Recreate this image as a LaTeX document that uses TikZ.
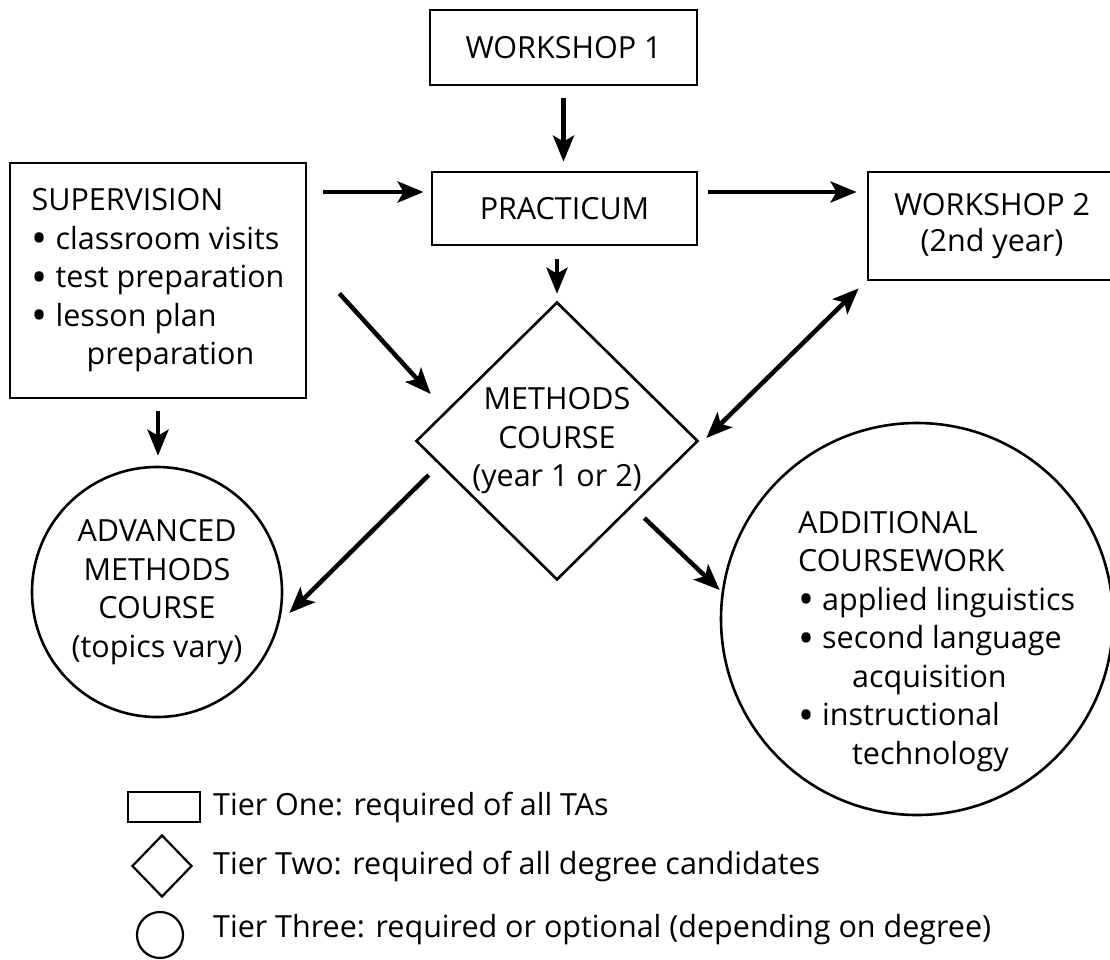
\documentclass[tikz,border=0pt]{standalone}
\usepackage{fontspec}
\setmainfont{Open Sans}
\usetikzlibrary{arrows.meta,shapes.geometric,calc}
% a round bullet a little larger than the font's own, centred on the x-height
\newcommand\tbul{\raisebox{-4.5pt}{\scalebox{1.4}{\textbullet}}}
\begin{document}
\begin{tikzpicture}[x=1pt,y=-1pt,
  every node/.style={font=\fontsize{30.5}{38.5}\selectfont, inner sep=0pt},
  box/.style={draw, rectangle, line width=2.8pt},
  dia/.style={draw, diamond, line width=2.6pt, align=center},
  ring/.style={draw, circle, line width=2.6pt, align=center},
  arr/.style={line width=4.5pt, -{Stealth[length=26pt, width=21pt, inset=6pt]}},
  dbl/.style={line width=4.5pt, {Stealth[length=26pt, width=21pt, inset=6pt]}-{Stealth[length=26pt, width=21pt, inset=6pt]}}]
\useasboundingbox (0,0) rectangle (1110,960);

% tier one: boxes
\node[box, minimum width=267, minimum height=75] (ws1) at (563.5,47.5) {WORKSHOP 1};
\node[box, minimum width=265, minimum height=73] (prac) at (564.5,208.5) {PRACTICUM};
\node[box, minimum width=296, minimum height=235, align=left] (sup) at (158,280.5)
  {SUPERVISION\\
   \tbul\ classroom visits\\
   \tbul\ test preparation\\
   \tbul\ lesson plan\\
   \hspace*{55pt}preparation};
\node[box, minimum width=248, minimum height=108, align=center] (ws2) at (992,226)
  {WORKSHOP 2\\[-3pt](2nd year)};

% tier two: diamond
\node[dia, minimum width=282, minimum height=278] (meth) at (557,441)
  {METHODS\\COURSE\\(year 1 or 2)};

% tier three: circles
\node[ring, minimum size=250] (adv) at (157,592)
  {ADVANCED\\METHODS\\COURSE\\(topics vary)};
\node[ring, minimum size=392] (add) at (917,619) {};
\node[align=left, anchor=north west] (addtext) at (798,511)
  {ADDITIONAL\\
   COURSEWORK\\
   \tbul\ applied linguistics\\
   \tbul\ second language\\
   \hspace*{54pt}acquisition\\
   \tbul\ instructional\\
   \hspace*{54pt}technology};

% connectors
\draw[arr, shorten <=12pt, shorten >=9pt] (ws1.south) -- (ws1.south |- prac.north);
\draw[arr, shorten <=13pt, shorten >=7pt] (meth.north |- prac.south) -- (meth.north);
\draw[arr] ($(sup.east |- prac.west)+(16,-16.5)$) -- ($(prac.west)+(-7,-16.5)$);
\draw[arr] ($(prac.east)+(10,-16.5)$) -- ($(prac.east -| ws2.west)+(-10,-16.5)$);
\draw[arr] ($(sup.east)+(32,13)$) -- ($(meth.west)+(16,-47)$);
\draw[dbl] ($(ws2.south west)+(-8,7)$) -- ($(meth.east)+(7,-3)$);
\draw[arr, shorten <=12pt, shorten >=10pt] (sup.south) -- (sup.south |- adv.north);
\draw[arr] ($(meth.west)+(14,34)$) -- ($(adv.east)+(6,21)$);
\draw[arr] ($(meth.east)+(-55,77)$) -- ($(add.west)+(0,-29)$);

% legend
\node[box, line width=2.4pt, minimum width=72, minimum height=30] (lg1) at (164,807) {};
\node[dia, line width=2.2pt, minimum width=60, minimum height=62] (lg2) at (162,866) {};
\node[ring, line width=2.2pt, minimum size=46] (lg3) at (160,935) {};
\node[anchor=base west] (lt1) at (213,815) {Tier One: required of all TAs};
\node[anchor=base west] (lt2) at (213,874) {Tier Two: required of all degree candidates};
\node[anchor=base west] (lt3) at (213,937) {Tier Three: required or optional (depending on degree)};
\end{tikzpicture}
\end{document}
